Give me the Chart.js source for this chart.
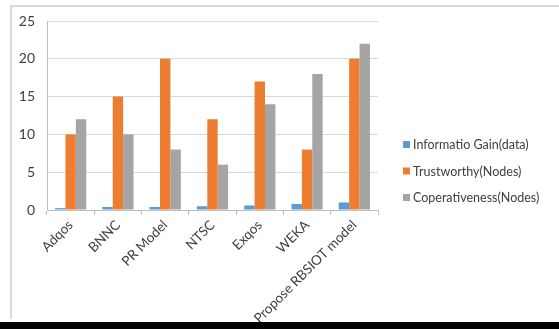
<!DOCTYPE html>
<html>
<head>
<meta charset="utf-8">
<script src="https://cdn.jsdelivr.net/npm/chart.js@4.4.0/dist/chart.umd.min.js"></script>
<style>
  html, body { margin: 0; padding: 0; background: #fff; }
  #wrap { position: relative; width: 559px; height: 329px; overflow: hidden; }
  #frameTop { position: absolute; left: 10px; top: 5px; width: 549px; height: 0; border-top: 2px solid #d9d9d9; }
  #frameLeft { position: absolute; left: 10px; top: 5px; width: 0; height: 314px; border-left: 2px solid #d9d9d9; }
  #bottomBar { position: absolute; left: 0; top: 322px; width: 559px; height: 7px; background: #000; }
  #c { position: absolute; left: 0; top: 0; }
</style>
</head>
<body>
<div id="wrap">
  <canvas id="c" width="559" height="329"></canvas>
  <div id="frameTop"></div>
  <div id="frameLeft"></div>
  <div id="bottomBar"></div>
</div>
<script>
const categories = ["Adqos", "BNNC", "PR Model", "NTSC", "Exqos", "WEKA", "Propose RBSIOT model"];
const infoGain = [0.25, 0.4, 0.4, 0.5, 0.6, 0.8, 1.0];
const trustworthy = [10, 15, 20, 12, 17, 8, 20];
const cooperativeness = [12, 10, 8, 6, 14, 18, 22];
const yTicks = [0, 5, 10, 15, 20, 25];

const FONT = "Lato, 'Liberation Sans', sans-serif";

// Legend drawn from the chart's own datasets (built-in right legend is width-capped)
const sideLegend = {
  id: 'sideLegend',
  afterDraw(chart) {
    const ctx = chart.ctx;
    const x0 = chart.chartArea.right + 25;
    const yMid = (chart.chartArea.top + chart.chartArea.bottom) / 2 + 56;
    const rowH = 26.5;
    const n = chart.data.datasets.length;
    ctx.save();
    ctx.font = "12.5px " + FONT;
    ctx.textBaseline = 'middle';
    ctx.textAlign = 'left';
    chart.data.datasets.forEach((ds, i) => {
      const y = yMid + (i - (n - 1) / 2) * rowH;
      ctx.fillStyle = ds.backgroundColor;
      ctx.fillRect(x0, y - 4, 7, 7);
      ctx.fillStyle = '#404040';
      ctx.fillText(ds.label, x0 + 10, y);
    });
    ctx.restore();
  }
};

function draw() {
  new Chart(document.getElementById('c'), {
    type: 'bar',
    data: {
      labels: categories,
      datasets: [
        { label: 'Informatio Gain(data)', data: infoGain, backgroundColor: '#5b9bd5' },
        { label: 'Trustworthy(Nodes)', data: trustworthy, backgroundColor: '#ed7d31' },
        { label: 'Coperativeness(Nodes)', data: cooperativeness, backgroundColor: '#a5a5a5' }
      ]
    },
    plugins: [sideLegend],
    options: {
      responsive: false,
      animation: false,
      devicePixelRatio: 1,
      layout: { padding: { left: 14, top: 21, right: 181, bottom: 0 } },
      datasets: { bar: { categoryPercentage: 0.66, barPercentage: 1.0 } },
      plugins: {
        legend: { display: false },
        tooltip: { enabled: false }
      },
      scales: {
        x: {
          grid: { display: true, drawOnChartArea: false, offset: true, color: '#bfbfbf', tickLength: 5 },
          border: { display: true, color: '#bfbfbf' },
          ticks: { color: '#404040', font: { family: FONT, size: 13.5 }, minRotation: 45, maxRotation: 45, padding: 2 },
          afterFit: (s) => { s.height = 119; }
        },
        y: {
          min: 0, max: 25,
          afterBuildTicks: (s) => { s.ticks = yTicks.map(v => ({ value: v })); },
          grid: { color: '#d9d9d9', drawTicks: false },
          border: { display: true, color: '#bfbfbf' },
          ticks: { color: '#404040', font: { family: FONT, size: 14 }, padding: 12 },
          afterFit: (s) => { s.width = 33; }
        }
      }
    }
  });
}

Promise.all([
  document.fonts.load("12.5px Lato"),
  document.fonts.load("13.5px Lato"),
  document.fonts.load("14px Lato")
]).then(draw, draw);
</script>
</body>
</html>
